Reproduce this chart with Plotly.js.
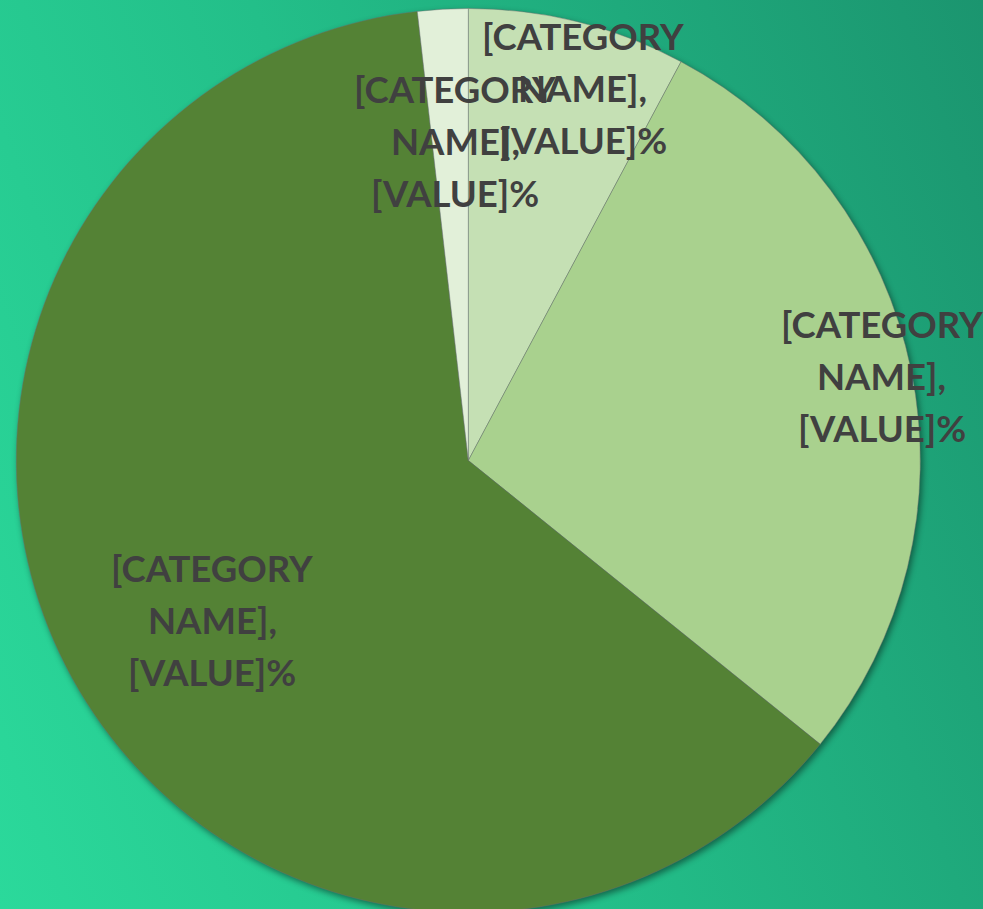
<!DOCTYPE html>
<html>
<head>
<meta charset="utf-8">
<script src="https://cdn.plot.ly/plotly-3.0.1.min.js"></script>
<style>
  html, body { margin:0; padding:0; width:983px; height:909px; overflow:hidden; }
  body { background: linear-gradient(69deg, #2bd99b 0%, #23bf89 45%, #1b956f 100%); }
  #chart { width:983px; height:914px; }
  .pielayer { filter: drop-shadow(2px 3px 3px rgba(0,0,0,0.45)); }
</style>
</head>
<body>
<div id="chart"></div>
<script>
// ---- data ----
const sliceIds = ['s1', 's2', 's3', 's4'];
const categoryNames = ['[CATEGORY NAME]', '[CATEGORY NAME]', '[CATEGORY NAME]', '[CATEGORY NAME]'];
const valueLabels = ['[VALUE]%', '[VALUE]%', '[VALUE]%', '[VALUE]%'];
const values = [7.8, 28.0, 62.4, 1.8];
const sliceColors = ['#c5e0b4', '#a9d18e', '#548235', '#e2f0d9'];

// ---- layout config ----
const W = 983, H = 914;
const cx = 468.3, cy = 460.5, R = 452;
const labelFrac = [0.85, 0.934, 0.646, 0.708];
const labelDx = [21, 0, 0, 5];
const labelDy = [0, 0, 19, 0];
const lineGap = 52;
const fontSize = 36.5;

const total = values.reduce((a, b) => a + b, 0);
let cum = 0;
const annotations = [];
values.forEach((v, i) => {
  const mid = (cum + v / 2) / total * 2 * Math.PI;
  cum += v;
  const px = cx + R * labelFrac[i] * Math.sin(mid) + labelDx[i];
  const py = cy - R * labelFrac[i] * Math.cos(mid) + labelDy[i];
  const words = categoryNames[i].split(' ');
  const lines = [words[0], words.slice(1).join(' ') + ',', valueLabels[i]];
  lines.forEach((t, k) => {
    annotations.push({
      xref: 'paper', yref: 'paper',
      x: px / W, y: 1 - (py + (k - 1) * lineGap) / H,
      xanchor: 'center', yanchor: 'middle',
      text: t, showarrow: false,
      font: { family: 'Lato, "Open Sans", sans-serif', size: fontSize, color: '#404040', weight: 'bold' }
    });
  });
});

const trace = {
  type: 'pie',
  labels: sliceIds,
  values: values,
  sort: false,
  direction: 'clockwise',
  rotation: 0,
  textinfo: 'none',
  hoverinfo: 'none',
  marker: { colors: sliceColors, line: { color: 'rgba(110,110,110,0.55)', width: 0.8 } },
  domain: { x: [(cx - R) / W, (cx + R) / W], y: [1 - (cy + R) / H, 1 - (cy - R) / H] }
};

Plotly.newPlot('chart', [trace], {
  width: W, height: H,
  margin: { l: 0, r: 0, t: 0, b: 0 },
  paper_bgcolor: 'rgba(0,0,0,0)',
  plot_bgcolor: 'rgba(0,0,0,0)',
  showlegend: false,
  annotations: annotations
}, { displayModeBar: false, staticPlot: true });
</script>
</body>
</html>
